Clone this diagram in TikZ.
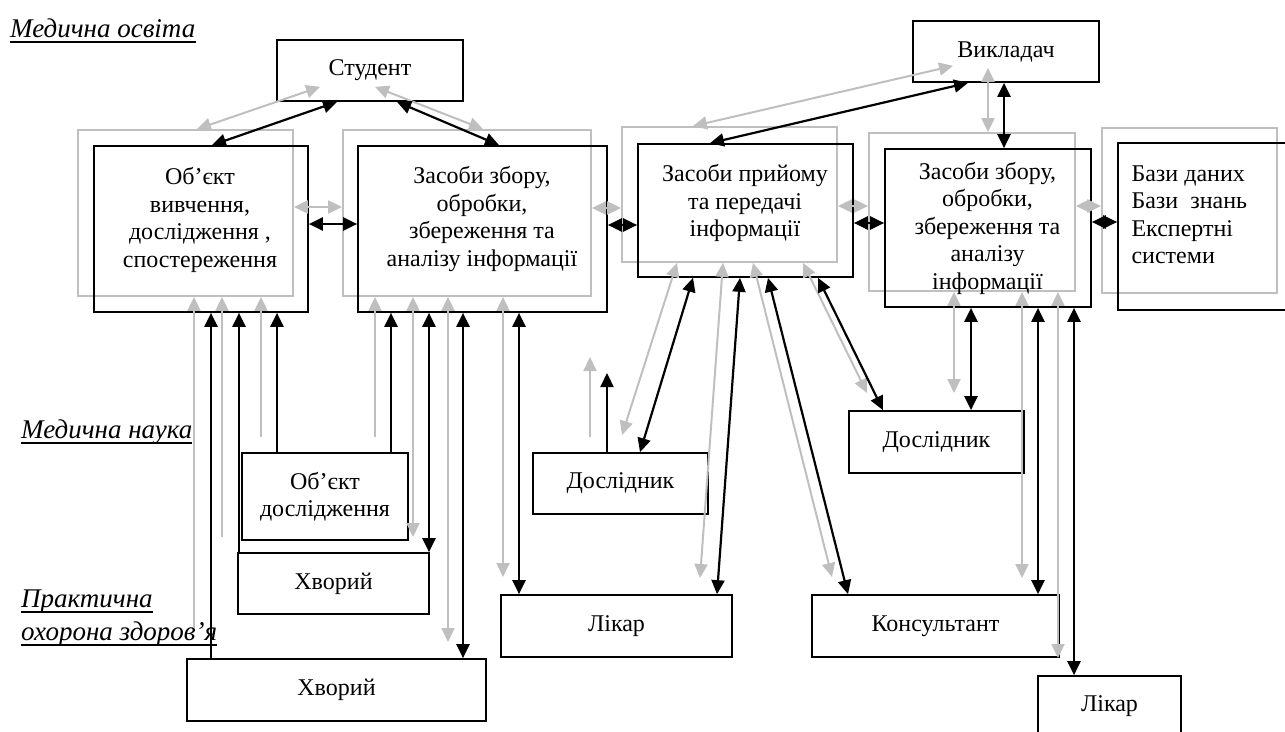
\documentclass[tikz,border=0pt]{standalone}
\usepackage{fontspec}
\setmainfont{Liberation Serif}
\usetikzlibrary{arrows.meta}

\begin{document}
\begin{tikzpicture}[x=1pt,y=-1pt,
	>={Triangle[length=14pt,width=13pt]},
	every node/.style={font=\fontsize{24}{27.5}\selectfont},
	box/.style={draw,line width=1.7pt,inner sep=0pt},
	ghost/.style={draw=gray!50,line width=1.8pt,inner sep=0pt},
	blk/.style={line width=2.2pt},
	gry/.style={draw=gray!50,line width=2pt},
	lbl/.style={font=\fontsize{27}{30}\selectfont\itshape,inner sep=0pt,anchor=base west},
	uline/.style={line width=1.4pt}]
			\useasboundingbox (0,0) rectangle (1285,731);
			\clip (0,0) rectangle (1285,731);
			\node [ghost,minimum width=215pt,minimum height=166pt] (gf1) at (185.5,213) {};
			\node [ghost,minimum width=248pt,minimum height=166pt] (gf2) at (467,213) {};
			\node [ghost,minimum width=215pt,minimum height=135pt] (gf3) at (729.5,194.5) {};
			\node [ghost,minimum width=206pt,minimum height=158pt] (gf4) at (972,212) {};
			\node [ghost,minimum width=175pt,minimum height=165pt] (gf5) at (1189.5,210.5) {};
			\node [box,minimum width=186pt,minimum height=61pt] (stud) at (370,70.5) {Студент};
			\node [box,minimum width=186pt,minimum height=61pt] (vykl) at (1006,51.5) {Викладач};
			\node [box,minimum width=214pt,minimum height=166pt] (obj) at (201,229) {};
			\node [box,minimum width=249pt,minimum height=166pt] (zb1) at (482.5,229) {};
			\node [box,minimum width=215pt,minimum height=133pt] (zp) at (745.5,210.5) {};
			\node [box,minimum width=206pt,minimum height=158pt] (zb2) at (988,228) {};
			\node [box,minimum width=182pt,minimum height=167pt] (bazy) at (1209,226.5) {};
			\node [align=center] (objt) at (200,220) {Об’єкт\\вивчення,\\дослідження ,\\спостереження};
			\node [align=center] (zb1t) at (482,219) {Засоби збору,\\обробки,\\збереження та\\аналізу інформації};
			\node [align=center] (zpt) at (745,203) {Засоби прийому\\та передачі\\інформації};
			\node [align=center] (zb2t) at (987.5,228) {Засоби збору,\\обробки,\\збереження та\\аналізу\\інформації};
			\node [align=left,anchor=west] (bazyt) at (1128,215) {Бази даних\\Бази~~знань\\Експертні\\системи};
			\node [box,minimum width=166pt,minimum height=87pt,align=center] (obd) at (325,496.5) {Об’єкт\\дослідження};
			\node [box,minimum width=191pt,minimum height=61pt] (hv1) at (333.5,583.5) {Хворий};
			\node [box,minimum width=299pt,minimum height=62pt] (hv2) at (336.5,690) {Хворий};
			\node [box,minimum width=175pt,minimum height=61pt] (dosl1) at (620.5,483.5) {Дослідник};
			\node [box,minimum width=231pt,minimum height=62pt] (lik1) at (616.5,626) {Лікар};
			\node [box,minimum width=247pt,minimum height=62pt] (kons) at (935.5,626) {Консультант};
			\node [box,minimum width=175pt,minimum height=62pt] (dosl2) at (936.5,442) {Дослідник};
			\node [box,minimum width=143pt,minimum height=60pt] (lik2) at (1109.5,706) {Лікар};
			\node [lbl] (lmo) at (10,37) {Медична освіта};
			\node [lbl] (lmn) at (21,438) {Медична наука};
			\node [lbl] (lpr) at (21,607) {Практична};
			\node [lbl] (loz) at (21,640) {охорона здоров’я};
			\draw [uline] ([yshift=-5pt]lmo.base west) -- ([yshift=-5pt]lmo.base east);
			\draw [uline] ([yshift=-5pt]lmn.base west) -- ([yshift=-5pt]lmn.base east);
			\draw [uline] ([yshift=-5pt]lpr.base west) -- ([yshift=-5pt]lpr.base east);
			\draw [uline] ([yshift=-5pt]loz.base west) -- ([yshift=-5pt]loz.base east);
			\coordinate (e1) at (194,628);
			\coordinate (e2) at (222,537);
			\coordinate (e3) at (261,437);
			\coordinate (e4) at (375,437);
			\coordinate (e5) at (413,537);
			\coordinate (e6) at (448,642);
			\coordinate (e7) at (503,577);
			\coordinate (e8) at (622,435);
			\coordinate (e9) at (700,578);
			\coordinate (e10) at (832,577);
			\coordinate (e11) at (867,393);
			\coordinate (e12) at (590,437);
			\coordinate (e13) at (590,357);
			\coordinate (e14) at (607,373);
			\coordinate (e15) at (954,393);
			\coordinate (e16) at (1022,578);
			\coordinate (e17) at (1058,658);
			\draw [gry,<->] ([yshift=15pt]stud.south -| 320,0) -- (gf1.north -| 197,0);
			\draw [blk,<->] (stud.south -| 337,0) -- (obj.north -| 212,0);
			\draw [gry,<->] ([yshift=15pt]stud.south -| 375,0) -- (gf2.north -| 483,0);
			\draw [blk,<->] (stud.south -| 397,0) -- (zb1.north -| 499,0);
			\draw [gry,<->] ([yshift=17pt]vykl.south -| 953,0) -- (gf3.north -| 693,0);
			\draw [blk,<->] (vykl.south -| 968,0) -- (zp.north -| 710,0);
			\draw [gry,<->] ([yshift=15pt]vykl.south -| 988,0) -- (gf4.north -| 988,0);
			\draw [blk,<->] (vykl.south -| 1004,0) -- (zb2.north -| 1004,0);
			\draw [gry,<->] (gf1.east |- 0,207) -- (gf2.west |- 0,207);
			\draw [blk,<->] (obj.east |- 0,224) -- (zb1.west |- 0,224);
			\draw [gry,<->] (gf2.east |- 0,208) -- (gf3.west |- 0,208);
			\draw [blk,<->] (zb1.east |- 0,225) -- (zp.west |- 0,225);
			\draw [gry,<->] (gf3.east |- 0,206) -- (gf4.west |- 0,206);
			\draw [blk,<->] (zp.east |- 0,223) -- (zb2.west |- 0,223);
			\draw [gry,<->] (gf4.east |- 0,206) -- (gf5.west |- 0,206);
			\draw [blk,<->] (zb2.east |- 0,222) -- (bazy.west |- 0,222);
			\draw [gry,->] (e1) -- (gf1.south -| e1);
			\draw [blk,->] (hv2.north -| 211,0) -- (obj.south -| 211,0);
			\draw [gry,->] (e2) -- (gf1.south -| e2);
			\draw [blk,->] (hv1.north -| 239,0) -- (obj.south -| 239,0);
			\draw [gry,->] (e3) -- (gf1.south -| e3);
			\draw [blk,->] (obd.north -| 277,0) -- (obj.south -| 277,0);
			\draw [gry,->] (e4) -- (gf2.south -| e4);
			\draw [blk,->] (obd.north -| 391,0) -- (zb1.south -| 391,0);
			\draw [gry,<->] (e5) -- (gf2.south -| e5);
			\draw [blk,<->] (hv1.north -| 429,0) -- (zb1.south -| 429,0);
			\draw [gry,<->] (e6) -- (gf2.south -| e6);
			\draw [blk,<->] (hv2.north -| 463,0) -- (zb1.south -| 463,0);
			\draw [gry,<->] (e7) -- (gf2.south -| e7);
			\draw [blk,<->] (lik1.north -| 519,0) -- (zb1.south -| 519,0);
			\draw [gry,<->] (gf3.south -| 677,0) -- (e8);
			\draw [blk,<->] (zp.south -| 693,0) -- (dosl1.north -| 640,0);
			\draw [gry,<->] (gf3.south -| 723,0) -- (e9);
			\draw [blk,<->] (zp.south -| 740,0) -- (lik1.north -| 717,0);
			\draw [gry,<->] (gf3.south -| 753,0) -- (e10);
			\draw [blk,<->] (zp.south -| 768,0) -- (kons.north -| 848,0);
			\draw [gry,<->] (gf3.south -| 803,0) -- (e11);
			\draw [blk,<->] (zp.south -| 818,0) -- (dosl2.north -| 883,0);
			\draw [gry,->] (e12) -- (e13);
			\draw [blk,->] (dosl1.north -| e14) -- (e14);
			\draw [gry,<->] (gf4.south -| e15) -- (e15);
			\draw [blk,<->] (zb2.south -| 971,0) -- (dosl2.north -| 971,0);
			\draw [gry,<->] (gf4.south -| e16) -- (e16);
			\draw [blk,<->] (zb2.south -| 1038,0) -- (kons.north -| 1038,0);
			\draw [gry,<->] (gf4.south -| e17) -- (e17);
			\draw [blk,<->] (zb2.south -| 1074,0) -- (lik2.north -| 1074,0);
		\end{tikzpicture}
\end{document}
